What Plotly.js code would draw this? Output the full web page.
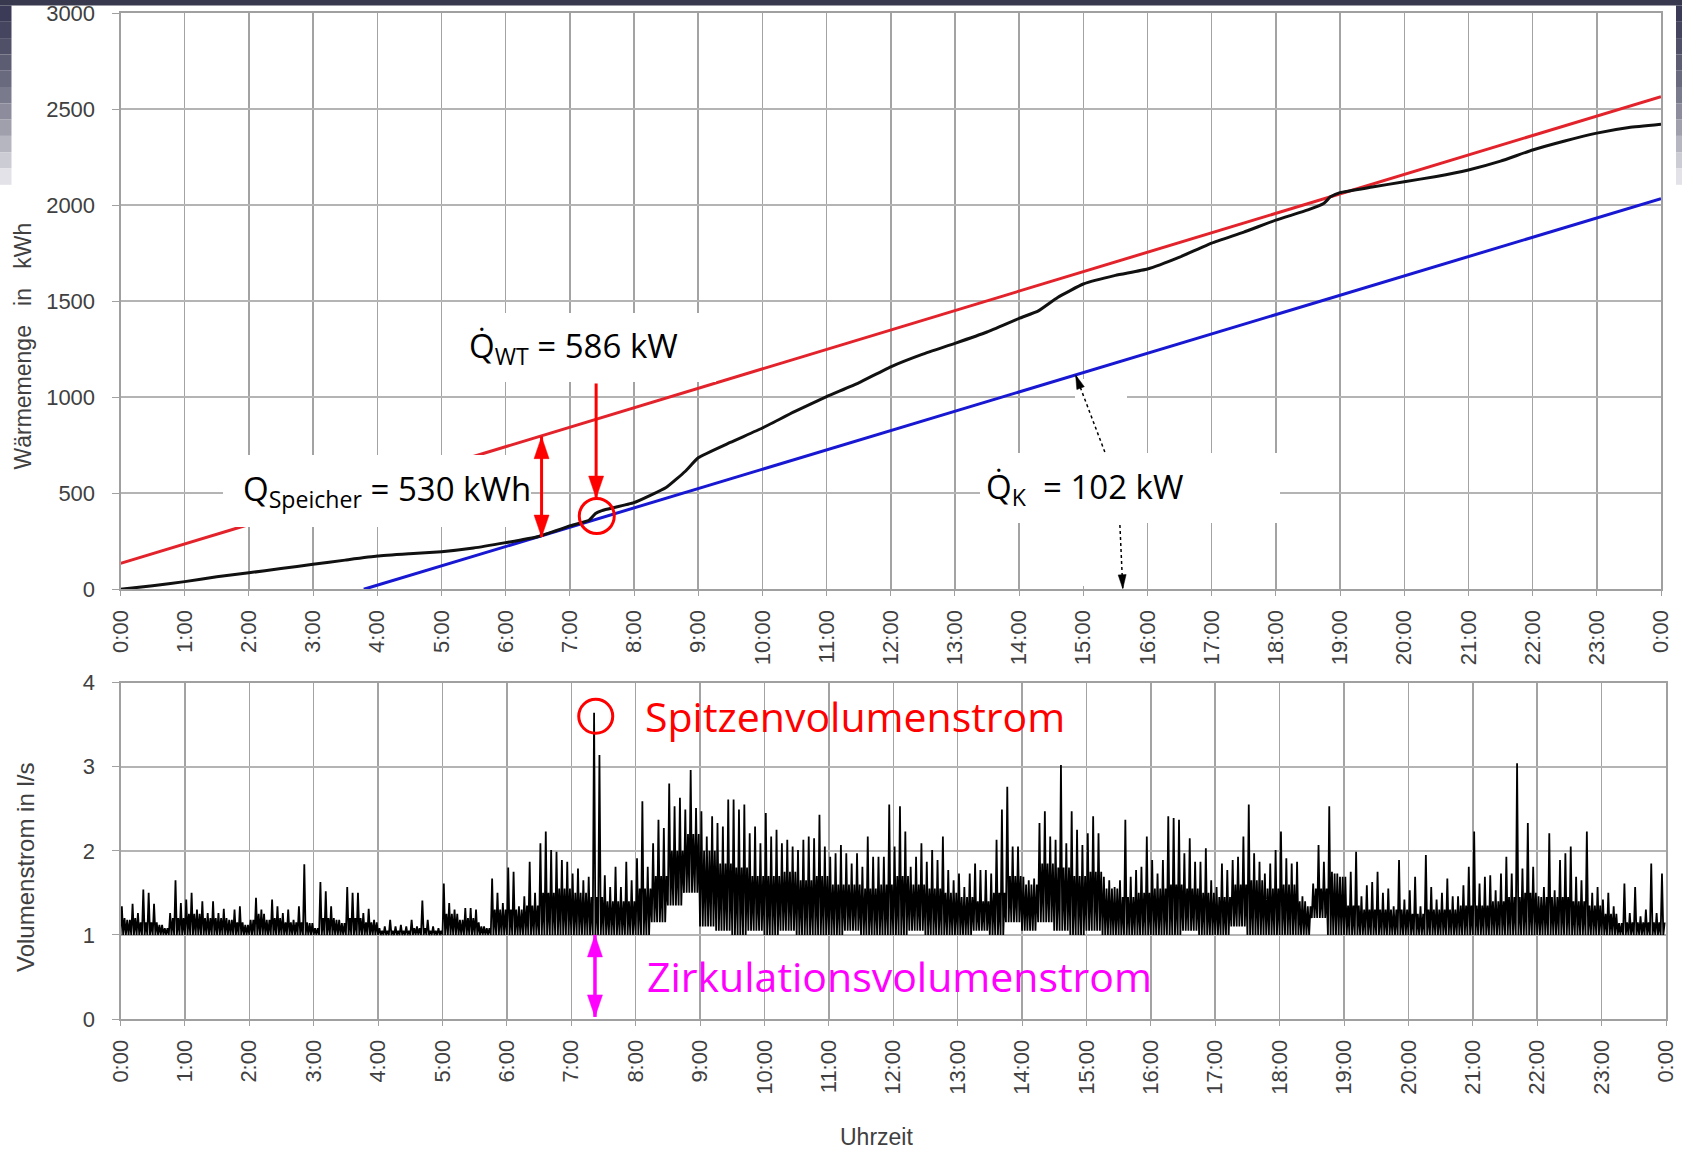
<!DOCTYPE html>
<html>
<head>
<meta charset="utf-8">
<script src="https://cdn.plot.ly/plotly-3.0.1.min.js"></script>
<style>html,body{margin:0;padding:0;background:#fff;}#chart{width:1682px;height:1150px;}</style>
</head>
<body>
<div id="chart"></div>
<script>
// ---------------- DATA ----------------
const hourTicks = [0,1,2,3,4,5,6,7,8,9,10,11,12,13,14,15,16,17,18,19,20,21,22,23,24];
const hourLabels = ['0:00','1:00','2:00','3:00','4:00','5:00','6:00','7:00','8:00','9:00','10:00','11:00',
  '12:00','13:00','14:00','15:00','16:00','17:00','18:00','19:00','20:00','21:00','22:00','23:00','0:00'];

// cumulative heat demand (kWh) over the day
const heatT = [0,0.5,1,1.5,2,2.5,3,3.5,4,4.5,5,5.5,6,6.5,7,7.3,7.4,7.5,8,8.5,8.8,9,9.5,10,10.5,11,11.5,12,12.5,13,
  13.5,14,14.3,14.6,15,15.5,16,16.5,17,17.5,18,18.5,18.75,18.85,19,19.5,20,20.5,21,21.5,22,22.5,23,23.5,24];
const heatQ = [0,18,40,65,86,108,130,152,173,185,196,215,243,274,330,360,395,410,451,530,615,685,765,840,925,1003,1075,1159,1225,1281,
  1340,1411,1450,1520,1590,1635,1668,1730,1803,1860,1923,1976,2011,2044,2066,2095,2123,2150,2184,2230,2288,2335,2376,2405,2422];

// heat exchanger line (red) and boiler line (blue)
const wtT = [0, 24];
const wtQ = [135, 2566];
const kT = [3.79, 24];
const kQ = [0, 2035];

// volume flow (l/s): peak per 5-minute slot
const flowHigh = [
  1.34,1.18,1.37,1.26,1.54,1.50,1.37,1.12,1.08,1.26,1.65,1.38,
  1.42,1.50,1.30,1.40,1.26,1.40,1.26,1.31,1.18,1.30,1.34,1.12,
  1.18,1.44,1.30,1.18,1.42,1.34,1.26,1.30,1.18,1.34,1.84,1.14,
  1.08,1.63,1.52,1.34,1.18,1.14,1.57,1.50,1.50,1.26,1.31,1.18,
  1.08,1.10,1.18,1.10,1.12,1.10,1.18,1.10,1.41,1.18,1.10,1.08,
  1.61,1.38,1.30,1.18,1.32,1.32,1.30,1.10,1.08,1.67,1.50,1.38,
  1.80,1.75,1.34,1.46,1.87,1.50,2.09,2.23,2.01,1.99,1.89,1.87,
  1.73,1.79,1.65,1.69,3.64,3.14,1.71,1.57,1.81,1.57,1.87,1.65,
  1.91,2.59,1.81,2.09,2.37,2.27,2.80,2.53,2.63,2.49,2.96,2.51,
  2.47,2.17,2.41,2.33,2.29,2.61,2.61,2.49,2.55,2.21,2.29,2.09,
  2.45,2.17,2.25,2.09,2.13,2.05,2.01,2.13,2.17,2.15,2.43,2.05,
  1.93,1.97,2.07,1.97,1.85,1.97,1.81,2.17,1.93,1.93,1.93,2.55,
  2.05,2.53,2.23,1.81,1.93,2.09,1.87,2.01,1.89,2.17,1.77,1.65,
  1.73,1.57,1.73,1.85,1.77,1.77,1.73,2.13,2.49,2.76,2.05,2.05,
  1.69,1.65,1.67,2.33,2.47,2.17,2.13,3.02,2.09,2.47,2.25,2.07,
  2.21,2.41,2.21,1.69,1.65,1.57,1.65,2.37,1.69,1.77,1.81,2.17,
  1.89,1.73,1.89,2.41,2.39,2.37,1.97,2.15,1.87,1.87,2.03,1.65,
  1.57,1.85,1.77,1.89,1.93,2.17,2.55,1.97,1.87,1.73,1.85,2.01,
  2.23,1.91,1.85,1.87,1.46,1.34,1.61,2.07,1.87,2.53,1.73,1.69,
  1.69,1.75,1.99,1.46,1.59,1.63,1.75,1.50,1.55,1.34,1.89,1.42,
  1.53,1.69,1.34,1.95,1.57,1.42,1.50,1.67,1.46,1.46,1.59,1.81,
  2.23,1.61,1.69,1.71,1.53,1.73,1.93,1.73,3.04,1.79,2.33,1.81,
  1.46,1.57,2.21,1.53,1.89,1.97,2.05,1.69,1.65,2.23,1.50,1.57,
  1.42,1.50,1.34,1.14,1.61,1.26,1.57,1.22,1.30,1.85,1.26,1.73];
// typical upper level of the dense band per 15-minute slot
const flowBody = [
  1.20,1.15,1.15,1.20, 1.25,1.20,1.20,1.15, 1.25,1.20,1.15,1.15, 1.20,1.20,1.20,1.15,
  1.05,1.05,1.08,1.05, 1.25,1.20,1.15,1.30, 1.30,1.35,1.50,1.55, 1.50,1.45,1.40,1.40,
  1.55,1.70,2.00,2.20, 2.00,1.85,1.80,1.70, 1.70,1.75,1.65,1.70, 1.60,1.60,1.55,1.60,
  1.70,1.60,1.55,1.50, 1.45,1.40,1.50,1.70, 1.60,1.85,1.80,1.70, 1.75,1.55,1.45,1.50,
  1.55,1.60,1.55,1.50, 1.45,1.60,1.65,1.55, 1.60,1.40,1.55,1.75, 1.35,1.30,1.30,1.30,
  1.25,1.30,1.30,1.35, 1.35,1.40,1.45,1.50, 1.45,1.45,1.40,1.35, 1.25,1.15,1.15,1.15];
// lower edge of the band per 15-minute slot (circulation flow)
const flowLow = [
  1.00,1.00,1.00,1.00, 1.00,1.00,1.00,1.00, 1.00,1.00,1.00,1.00, 1.00,1.00,1.00,1.00,
  1.00,1.00,1.00,1.00, 1.00,1.00,1.00,1.00, 1.00,1.00,1.00,1.00, 1.00,1.00,1.00,1.00,
  1.00,1.15,1.35,1.50, 1.10,1.05,1.00,1.05, 1.00,1.05,1.00,1.00, 1.00,1.05,1.00,1.00,
  1.00,1.05,1.00,1.00, 1.00,1.05,1.00,1.15, 1.05,1.15,1.05,1.00, 1.05,1.00,1.00,1.00,
  1.00,1.00,1.05,1.00, 1.00,1.10,1.00,1.00, 1.00,1.00,1.20,1.00, 1.00,1.00,1.00,1.00,
  1.00,1.00,1.00,1.00, 1.00,1.00,1.00,1.00, 1.00,1.00,1.00,1.00, 1.00,1.00,1.00,1.00];

// ---------------- BUILD ----------------
const flowT = [], flowV = [];
for (let i = 0; i < flowHigh.length; i++) {
  const q = Math.floor(i / 3);
  const t0 = i * 5 / 60;
  const lo = flowLow[q];
  const bo = Math.min(flowBody[q], flowHigh[i]);
  flowT.push(t0, t0 + 1.25/60, t0 + 2.5/60, t0 + 3.75/60);
  flowV.push(lo, flowHigh[i], lo, bo);
}

const W = 1682, H = 1150;
const PX = x => x / W;
const PY = y => 1 - y / H;

// plot areas in pixels
const TOPBOX = {l: 120.5, r: 1661, t: 13.3, b: 589.3};
const BOTBOX = {l: 120.5, r: 1666, t: 682.6, b: 1019};
const TOP = {xref: 'x', yref: 'y', sx: (TOPBOX.r - TOPBOX.l) / 24, sy: (TOPBOX.b - TOPBOX.t) / 3000};
const BOT = {xref: 'x2', yref: 'y2', sx: (BOTBOX.r - BOTBOX.l) / 24, sy: (BOTBOX.b - BOTBOX.t) / 4};

const tickFont = {family: 'Liberation Sans, Arial, sans-serif', size: 22, color: '#404040'};
const annFont = {family: 'Open Sans, Noto Sans, sans-serif', size: 33, color: '#000'};

const traces = [
  {x: wtT, y: wtQ, type: 'scatter', mode: 'lines', line: {color: '#e3232b', width: 3}, xaxis: 'x', yaxis: 'y', hoverinfo: 'skip'},
  {x: kT, y: kQ, type: 'scatter', mode: 'lines', line: {color: '#1818d2', width: 3}, xaxis: 'x', yaxis: 'y', hoverinfo: 'skip'},
  {x: heatT, y: heatQ, type: 'scatter', mode: 'lines', line: {color: '#111', width: 3, shape: 'spline', smoothing: 0.4}, xaxis: 'x', yaxis: 'y', hoverinfo: 'skip'},
  {x: flowT, y: flowV, type: 'scatter', mode: 'lines', line: {color: '#000', width: 1.8}, xaxis: 'x2', yaxis: 'y2', hoverinfo: 'skip'}
];

const xCommon = {
  range: [0, 24], tickmode: 'array', tickvals: hourTicks, ticktext: hourLabels, tickangle: -90,
  showgrid: true, gridcolor: '#a3a3a3', gridwidth: 1.5, zeroline: false,
  showline: true, mirror: true, linecolor: '#a0a0a0', linewidth: 2,
  ticks: 'outside', ticklen: 5, tickcolor: '#a0a0a0', tickfont: tickFont, ticklabelstandoff: 5,
  fixedrange: true
};
const yCommon = {
  showgrid: true, gridcolor: '#b4b4b4', gridwidth: 2, zeroline: false,
  showline: true, mirror: true, linecolor: '#a0a0a0', linewidth: 2,
  ticks: 'outside', ticklen: 7, tickcolor: '#a0a0a0', tickfont: tickFont, ticklabelstandoff: 12,
  fixedrange: true
};

const shapes = [];
// white text boxes
[[467,313,716,382],[223,455,531,527],[980,453,1280,523],[1075,379,1127,586]].forEach(b => {
  shapes.push({type: 'rect', xref: 'paper', yref: 'paper', x0: PX(b[0]), x1: PX(b[2]), y0: PY(b[3]), y1: PY(b[1]),
    fillcolor: '#ffffff', line: {width: 0}, layer: 'above'});
});
// red circles
shapes.push({type: 'circle', xref: 'x', yref: 'y', xsizemode: 'pixel', ysizemode: 'pixel', xanchor: 7.42, yanchor: 382,
  x0: -17.5, x1: 17.5, y0: -17.5, y1: 17.5, line: {color: '#ff0000', width: 3}, layer: 'above'});
shapes.push({type: 'circle', xref: 'x2', yref: 'y2', xsizemode: 'pixel', ysizemode: 'pixel', xanchor: 7.38, yanchor: 3.60,
  x0: -17, x1: 17, y0: -17, y1: 17, line: {color: '#ff0000', width: 3}, layer: 'above'});

// arrow helper: shaft line + filled triangular head(s), head size in pixels
function headPath(ax, tipX, tipY, fromX, fromY, len, wid) {
  const dxp = (tipX - fromX) * ax.sx, dyp = -(tipY - fromY) * ax.sy;
  const n = Math.hypot(dxp, dyp), ux = dxp / n, uy = dyp / n;
  const o1 = [-ux * len - uy * wid / 2, -uy * len + ux * wid / 2];
  const o2 = [-ux * len + uy * wid / 2, -uy * len - ux * wid / 2];
  const P = o => [tipX + o[0] / ax.sx, tipY - o[1] / ax.sy];
  const p1 = P(o1), p2 = P(o2);
  return `M${tipX},${tipY}L${p1[0]},${p1[1]}L${p2[0]},${p2[1]}Z`;
}
function addArrow(ax, x0, y0, x1, y1, color, width, len, wid, both, dash) {
  shapes.push({type: 'line', xref: ax.xref, yref: ax.yref, x0: x0, y0: y0, x1: x1, y1: y1,
    line: {color: color, width: width, dash: dash || 'solid'}, layer: 'above'});
  shapes.push({type: 'path', xref: ax.xref, yref: ax.yref, path: headPath(ax, x1, y1, x0, y0, len, wid),
    fillcolor: color, line: {color: color, width: 0.5}, layer: 'above'});
  if (both) shapes.push({type: 'path', xref: ax.xref, yref: ax.yref, path: headPath(ax, x0, y0, x1, y1, len, wid),
    fillcolor: color, line: {color: color, width: 0.5}, layer: 'above'});
}
// red storage arrow (double), red arrow to the circle, magenta circulation arrow
addArrow(TOP, 6.56, 272, 6.56, 795, '#ff0000', 3, 22, 15, true);
addArrow(TOP, 7.41, 1072, 7.41, 475, '#ff0000', 3, 22, 15, false);
addArrow(BOT, 7.368, 1.0, 7.368, 0.025, '#ff00ff', 3.5, 22, 15, true);
// dotted leaders for Q_K
addArrow(TOP, 15.335, 715, 14.88, 1116, '#000', 1.5, 14, 8, false, 'dot');
addArrow(TOP, 15.57, 335, 15.615, 3, '#000', 1.5, 14, 8, false, 'dot');

// slide decoration
shapes.push({type: 'rect', xref: 'paper', yref: 'paper', x0: 0, x1: 1, y0: PY(5.5), y1: 1, fillcolor: '#38384f', line: {width: 0}, layer: 'above'});
const bandColors = ['#3b3b57','#45455f','#505068','#5c5c73','#6a6a7f','#7a7a8d','#8c8c9c','#a0a0ad','#b6b6c0','#ccccd4','#e2e2e8'];
bandColors.forEach((c, k) => {
  const y0 = 5.5 + k * 16.3, y1 = y0 + 16.3;
  shapes.push({type: 'rect', xref: 'paper', yref: 'paper', x0: 0, x1: PX(11.5), y0: PY(y1), y1: PY(y0), fillcolor: c, line: {width: 0}, layer: 'above'});
  shapes.push({type: 'rect', xref: 'paper', yref: 'paper', x0: PX(1676), x1: 1, y0: PY(y1), y1: PY(y0), fillcolor: c, line: {width: 0}, layer: 'above'});
});

const titleFont = {family: 'Liberation Sans, Arial, sans-serif', size: 23, color: '#404040'};
const annotations = [
  // axis titles
  {xref: 'paper', yref: 'paper', x: PX(22.5), y: PY(346), xanchor: 'center', yanchor: 'middle',
    text: 'Wärmemenge\u00A0\u00A0 in\u00A0\u00A0 kWh', textangle: -90, showarrow: false, font: titleFont},
  {xref: 'paper', yref: 'paper', x: PX(25), y: PY(868), xanchor: 'center', yanchor: 'middle',
    text: 'Volumenstrom in l/s', textangle: -90, showarrow: false, font: Object.assign({}, titleFont, {size: 24})},
  {xref: 'paper', yref: 'paper', x: PX(877), y: PY(1137), xanchor: 'center', yanchor: 'middle',
    text: 'Uhrzeit', showarrow: false, font: titleFont},
  // labels
  {xref: 'paper', yref: 'paper', x: PX(467), y: PY(347), xanchor: 'left', yanchor: 'middle', showarrow: false,
    text: 'Q\u0307<sub>WT</sub> = 586 kW', font: annFont},
  {xref: 'paper', yref: 'paper', x: PX(241), y: PY(490), xanchor: 'left', yanchor: 'middle', showarrow: false,
    text: 'Q<sub>Speicher</sub> = 530 kWh', font: annFont},
  {xref: 'paper', yref: 'paper', x: PX(984), y: PY(489), xanchor: 'left', yanchor: 'middle', showarrow: false,
    text: 'Q\u0307<sub>K</sub>  = 102 kW', font: annFont},
  {xref: 'paper', yref: 'paper', x: PX(643), y: PY(716), xanchor: 'left', yanchor: 'middle', showarrow: false,
    text: 'Spitzenvolumenstrom', font: {family: 'Open Sans, Noto Sans, sans-serif', size: 41, color: '#ff0000'}},
  {xref: 'paper', yref: 'paper', x: PX(645), y: PY(976), xanchor: 'left', yanchor: 'middle', showarrow: false,
    text: 'Zirkulationsvolumenstrom', font: {family: 'Open Sans, Noto Sans, sans-serif', size: 41, color: '#ff00ff'}}
];

const layout = {
  width: W, height: H, margin: {l: 0, r: 0, t: 0, b: 0},
  paper_bgcolor: '#fff', plot_bgcolor: '#fff', showlegend: false,
  xaxis: Object.assign({}, xCommon, {domain: [PX(TOPBOX.l), PX(TOPBOX.r)], anchor: 'y'}),
  yaxis: Object.assign({}, yCommon, {domain: [PY(TOPBOX.b), PY(TOPBOX.t)], range: [0, 3000], dtick: 500, tick0: 0, anchor: 'x'}),
  xaxis2: Object.assign({}, xCommon, {domain: [PX(BOTBOX.l), PX(BOTBOX.r)], anchor: 'y2'}),
  yaxis2: Object.assign({}, yCommon, {domain: [PY(BOTBOX.b), PY(BOTBOX.t)], range: [0, 4], dtick: 1, tick0: 0, anchor: 'x2'}),
  shapes: shapes, annotations: annotations
};

Plotly.newPlot('chart', traces, layout, {displayModeBar: false, staticPlot: true});
</script>
</body>
</html>
